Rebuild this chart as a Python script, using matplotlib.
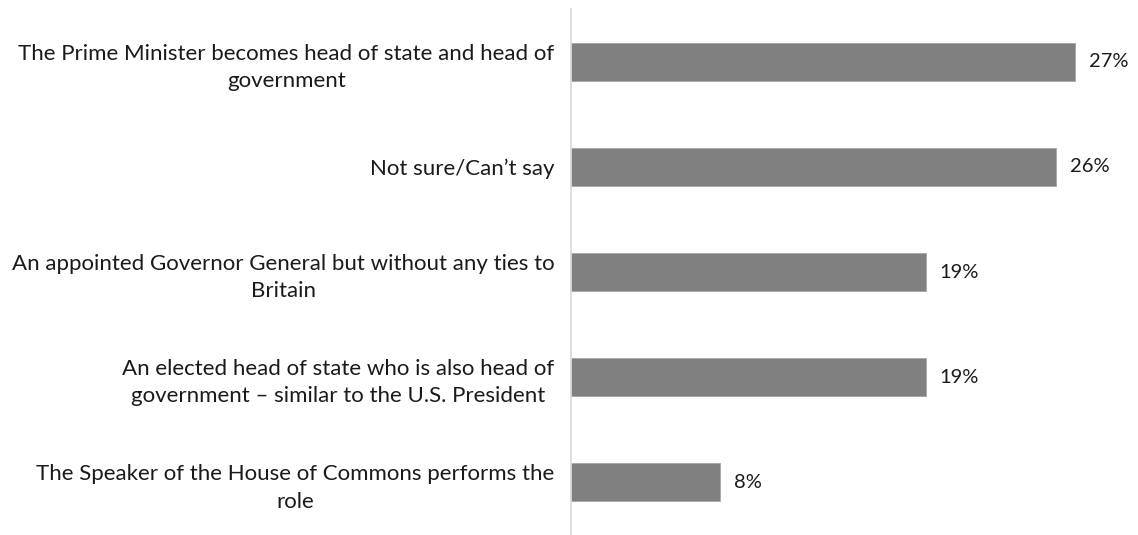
import matplotlib.pyplot as plt

plt.rcParams['font.family'] = ['Lato', 'DejaVu Sans']

labels = [
    "The Prime Minister becomes head of state and head of\ngovernment",
    "Not sure/Can\u2019t say",
    "An appointed Governor General but without any ties to\nBritain",
    "An elected head of state who is also head of\ngovernment \u2013 similar to the U.S. President",
    "The Speaker of the House of Commons performs the\nrole",
]
values = [27, 26, 19, 19, 8]

fig = plt.figure(figsize=(11.38, 5.35), dpi=100)
ax = fig.add_axes([571 / 1138, 0, 1 - 571 / 1138, 1 - 9 / 535])

pos = list(range(len(values)))
ax.barh(pos, values, height=0.36, color='#808080', edgecolor='#a6a6a6', linewidth=0.6)

for p, v in zip(pos, values):
    ax.annotate(f"{v}%", (v, p), xytext=(10, 0), textcoords='offset points',
                ha='left', va='center', fontsize=14.5, color='#1a1a1a')

ax.set_xlim(0, (1138 - 571) / 18.67)
ax.set_ylim(4.5, -0.5)
ax.set_yticks(pos)
ax.set_yticklabels(labels, fontsize=16, color='#1a1a1a', multialignment='center',
                   linespacing=1.45)
ax.tick_params(axis='y', length=0, pad=12)
ax.set_xticks([])

for s in ['top', 'right', 'bottom']:
    ax.spines[s].set_visible(False)
ax.spines['left'].set_color('#d9d9d9')
ax.spines['left'].set_linewidth(1.2)

fig.savefig('out.png', dpi=100)
